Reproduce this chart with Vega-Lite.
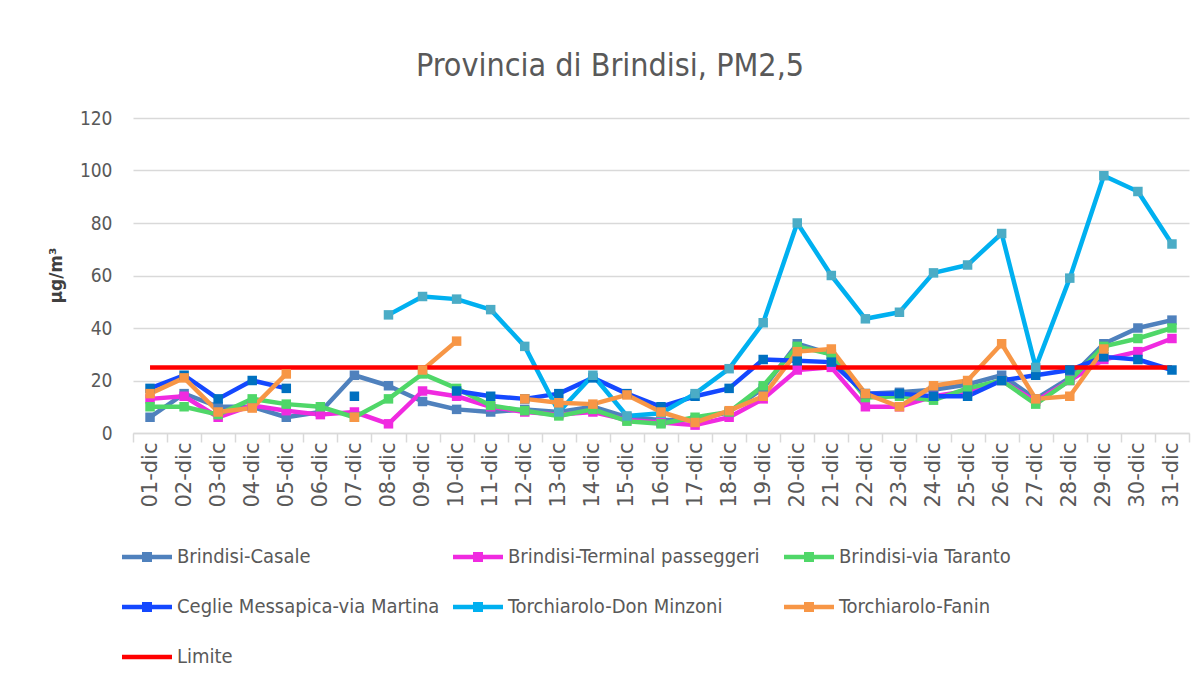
{
  "$schema": "https://vega.github.io/schema/vega-lite/v6.json",
  "width": 1056,
  "height": 315,
  "autosize": {"type": "none"},
  "padding": {"left": 133, "top": 118, "right": 14, "bottom": 251},
  "background": "white",
  "title": {
    "text": "Provincia di Brindisi, PM2,5",
    "anchor": "middle",
    "frame": "group",
    "dx": -51,
    "dy": 43,
    "offset": 37,
    "baseline": "bottom",
    "font": "DejaVu Sans Condensed",
    "fontSize": 32,
    "fontWeight": "normal",
    "color": "#595959"
  },
  "data": {
    "values": [
      {"day": "01-dic", "Brindisi-Casale": 6, "Brindisi-Terminal passeggeri": 13, "Brindisi-via Taranto": 10, "Ceglie Messapica-via Martina": 17, "Torchiarolo-Don Minzoni": null, "Torchiarolo-Fanin": 15, "Limite": 25},
      {"day": "02-dic", "Brindisi-Casale": 15, "Brindisi-Terminal passeggeri": 14, "Brindisi-via Taranto": 10, "Ceglie Messapica-via Martina": 22, "Torchiarolo-Don Minzoni": null, "Torchiarolo-Fanin": 21, "Limite": 25},
      {"day": "03-dic", "Brindisi-Casale": 10, "Brindisi-Terminal passeggeri": 6, "Brindisi-via Taranto": 7, "Ceglie Messapica-via Martina": 13, "Torchiarolo-Don Minzoni": null, "Torchiarolo-Fanin": 8, "Limite": 25},
      {"day": "04-dic", "Brindisi-Casale": 10, "Brindisi-Terminal passeggeri": 10.5, "Brindisi-via Taranto": 13, "Ceglie Messapica-via Martina": 20, "Torchiarolo-Don Minzoni": null, "Torchiarolo-Fanin": 9.5, "Limite": 25},
      {"day": "05-dic", "Brindisi-Casale": 6, "Brindisi-Terminal passeggeri": 8.5, "Brindisi-via Taranto": 11, "Ceglie Messapica-via Martina": 17, "Torchiarolo-Don Minzoni": null, "Torchiarolo-Fanin": 22.5, "Limite": 25},
      {"day": "06-dic", "Brindisi-Casale": 8, "Brindisi-Terminal passeggeri": 7, "Brindisi-via Taranto": 10, "Ceglie Messapica-via Martina": null, "Torchiarolo-Don Minzoni": null, "Torchiarolo-Fanin": null, "Limite": 25},
      {"day": "07-dic", "Brindisi-Casale": 22, "Brindisi-Terminal passeggeri": 8, "Brindisi-via Taranto": 6, "Ceglie Messapica-via Martina": 14, "Torchiarolo-Don Minzoni": null, "Torchiarolo-Fanin": 6, "Limite": 25},
      {"day": "08-dic", "Brindisi-Casale": 18, "Brindisi-Terminal passeggeri": 3.5, "Brindisi-via Taranto": 13, "Ceglie Messapica-via Martina": null, "Torchiarolo-Don Minzoni": 45, "Torchiarolo-Fanin": null, "Limite": 25},
      {"day": "09-dic", "Brindisi-Casale": 12, "Brindisi-Terminal passeggeri": 16, "Brindisi-via Taranto": 22.5, "Ceglie Messapica-via Martina": null, "Torchiarolo-Don Minzoni": 52, "Torchiarolo-Fanin": 24, "Limite": 25},
      {"day": "10-dic", "Brindisi-Casale": 9, "Brindisi-Terminal passeggeri": 14, "Brindisi-via Taranto": 17, "Ceglie Messapica-via Martina": 16, "Torchiarolo-Don Minzoni": 51, "Torchiarolo-Fanin": 35, "Limite": 25},
      {"day": "11-dic", "Brindisi-Casale": 8, "Brindisi-Terminal passeggeri": 10, "Brindisi-via Taranto": 10.5, "Ceglie Messapica-via Martina": 14, "Torchiarolo-Don Minzoni": 47, "Torchiarolo-Fanin": null, "Limite": 25},
      {"day": "12-dic", "Brindisi-Casale": 9, "Brindisi-Terminal passeggeri": 8, "Brindisi-via Taranto": 8.5, "Ceglie Messapica-via Martina": 13, "Torchiarolo-Don Minzoni": 33, "Torchiarolo-Fanin": 13, "Limite": 25},
      {"day": "13-dic", "Brindisi-Casale": 8, "Brindisi-Terminal passeggeri": 7, "Brindisi-via Taranto": 6.5, "Ceglie Messapica-via Martina": 15, "Torchiarolo-Don Minzoni": 8, "Torchiarolo-Fanin": 11.5, "Limite": 25},
      {"day": "14-dic", "Brindisi-Casale": 10, "Brindisi-Terminal passeggeri": 8, "Brindisi-via Taranto": 9, "Ceglie Messapica-via Martina": 21, "Torchiarolo-Don Minzoni": 22, "Torchiarolo-Fanin": 11, "Limite": 25},
      {"day": "15-dic", "Brindisi-Casale": 6, "Brindisi-Terminal passeggeri": 5, "Brindisi-via Taranto": 4.5, "Ceglie Messapica-via Martina": 15, "Torchiarolo-Don Minzoni": 6.5, "Torchiarolo-Fanin": 14.5, "Limite": 25},
      {"day": "16-dic", "Brindisi-Casale": 5, "Brindisi-Terminal passeggeri": 4, "Brindisi-via Taranto": 3.5, "Ceglie Messapica-via Martina": 10, "Torchiarolo-Don Minzoni": 7.5, "Torchiarolo-Fanin": 8, "Limite": 25},
      {"day": "17-dic", "Brindisi-Casale": 5, "Brindisi-Terminal passeggeri": 3, "Brindisi-via Taranto": 6, "Ceglie Messapica-via Martina": 14, "Torchiarolo-Don Minzoni": 15, "Torchiarolo-Fanin": 4, "Limite": 25},
      {"day": "18-dic", "Brindisi-Casale": 8, "Brindisi-Terminal passeggeri": 6, "Brindisi-via Taranto": 8, "Ceglie Messapica-via Martina": 17, "Torchiarolo-Don Minzoni": 24.5, "Torchiarolo-Fanin": 8.5, "Limite": 25},
      {"day": "19-dic", "Brindisi-Casale": 17, "Brindisi-Terminal passeggeri": 13, "Brindisi-via Taranto": 18, "Ceglie Messapica-via Martina": 28, "Torchiarolo-Don Minzoni": 42, "Torchiarolo-Fanin": 14, "Limite": 25},
      {"day": "20-dic", "Brindisi-Casale": 34, "Brindisi-Terminal passeggeri": 24, "Brindisi-via Taranto": 33, "Ceglie Messapica-via Martina": 27.5, "Torchiarolo-Don Minzoni": 80, "Torchiarolo-Fanin": 31, "Limite": 25},
      {"day": "21-dic", "Brindisi-Casale": 30, "Brindisi-Terminal passeggeri": 25, "Brindisi-via Taranto": 30, "Ceglie Messapica-via Martina": 27, "Torchiarolo-Don Minzoni": 60, "Torchiarolo-Fanin": 32, "Limite": 25},
      {"day": "22-dic", "Brindisi-Casale": 15, "Brindisi-Terminal passeggeri": 10, "Brindisi-via Taranto": 13.5, "Ceglie Messapica-via Martina": 15, "Torchiarolo-Don Minzoni": 43.5, "Torchiarolo-Fanin": 15, "Limite": 25},
      {"day": "23-dic", "Brindisi-Casale": 15.5, "Brindisi-Terminal passeggeri": 10, "Brindisi-via Taranto": 14, "Ceglie Messapica-via Martina": 15, "Torchiarolo-Don Minzoni": 46, "Torchiarolo-Fanin": 10, "Limite": 25},
      {"day": "24-dic", "Brindisi-Casale": 16.5, "Brindisi-Terminal passeggeri": 14, "Brindisi-via Taranto": 12.5, "Ceglie Messapica-via Martina": 14, "Torchiarolo-Don Minzoni": 61, "Torchiarolo-Fanin": 18, "Limite": 25},
      {"day": "25-dic", "Brindisi-Casale": 18.5, "Brindisi-Terminal passeggeri": 16, "Brindisi-via Taranto": 17, "Ceglie Messapica-via Martina": 14, "Torchiarolo-Don Minzoni": 64, "Torchiarolo-Fanin": 20, "Limite": 25},
      {"day": "26-dic", "Brindisi-Casale": 22, "Brindisi-Terminal passeggeri": 20, "Brindisi-via Taranto": 20, "Ceglie Messapica-via Martina": 20, "Torchiarolo-Don Minzoni": 76, "Torchiarolo-Fanin": 34, "Limite": 25},
      {"day": "27-dic", "Brindisi-Casale": 13, "Brindisi-Terminal passeggeri": 12, "Brindisi-via Taranto": 11, "Ceglie Messapica-via Martina": 22, "Torchiarolo-Don Minzoni": 25, "Torchiarolo-Fanin": 13, "Limite": 25},
      {"day": "28-dic", "Brindisi-Casale": 21, "Brindisi-Terminal passeggeri": 20, "Brindisi-via Taranto": 20, "Ceglie Messapica-via Martina": 24, "Torchiarolo-Don Minzoni": 59, "Torchiarolo-Fanin": 14, "Limite": 25},
      {"day": "29-dic", "Brindisi-Casale": 34, "Brindisi-Terminal passeggeri": 28, "Brindisi-via Taranto": 33, "Ceglie Messapica-via Martina": 29, "Torchiarolo-Don Minzoni": 98, "Torchiarolo-Fanin": 32, "Limite": 25},
      {"day": "30-dic", "Brindisi-Casale": 40, "Brindisi-Terminal passeggeri": 31, "Brindisi-via Taranto": 36, "Ceglie Messapica-via Martina": 28, "Torchiarolo-Don Minzoni": 92, "Torchiarolo-Fanin": null, "Limite": 25},
      {"day": "31-dic", "Brindisi-Casale": 43, "Brindisi-Terminal passeggeri": 36, "Brindisi-via Taranto": 40, "Ceglie Messapica-via Martina": 24, "Torchiarolo-Don Minzoni": 72, "Torchiarolo-Fanin": null, "Limite": 25}
    ]
  },
  "transform": [
    {"fold": ["Brindisi-Casale", "Brindisi-Terminal passeggeri", "Brindisi-via Taranto", "Ceglie Messapica-via Martina", "Torchiarolo-Don Minzoni", "Torchiarolo-Fanin", "Limite"], "as": ["serie", "val"]}
  ],
  "encoding": {
    "x": {
      "field": "day",
      "type": "ordinal",
      "sort": null,
      "scale": {"type": "band", "paddingInner": 0, "paddingOuter": 0},
      "axis": {
        "title": null,
        "labelAngle": -90,
        "labelFont": "DejaVu Sans",
        "labelFontSize": 21,
        "labelColor": "#595959",
        "labelPadding": 0,
        "tickBand": "extent",
        "ticks": true,
        "tickSize": 9,
        "tickColor": "#D9D9D9",
        "tickWidth": 1.5,
        "domain": true,
        "domainColor": "#D9D9D9",
        "domainWidth": 1.5,
        "grid": false
      }
    },
    "y": {
      "field": "val",
      "type": "quantitative",
      "scale": {"domain": [0, 120], "nice": false, "zero": true},
      "axis": {
        "values": [0, 20, 40, 60, 80, 100, 120],
        "title": "µg/m³",
        "titleFont": "DejaVu Sans",
        "titleFontSize": 17,
        "titleFontWeight": "bold",
        "titleColor": "#404040",
        "titleAngle": 270,
        "titleAlign": "center",
        "titleBaseline": "middle",
        "titleX": -77,
        "titleY": 157,
        "labelFont": "DejaVu Sans Condensed",
        "labelFontSize": 19,
        "labelColor": "#595959",
        "labelPadding": 21,
        "ticks": false,
        "domain": false,
        "grid": true,
        "gridColor": "#D9D9D9",
        "gridWidth": 1.5
      }
    }
  },
  "layer": [
    {
      "mark": {"type": "line", "strokeWidth": 4.5, "strokeJoin": "round"},
      "encoding": {
        "stroke": {
          "field": "serie",
          "type": "nominal",
          "scale": {
            "domain": ["Brindisi-Casale", "Brindisi-Terminal passeggeri", "Brindisi-via Taranto", "Ceglie Messapica-via Martina", "Torchiarolo-Don Minzoni", "Torchiarolo-Fanin", "Limite"],
            "range": ["#4F81BD", "#F02AE0", "#4FD768", "#1448FF", "#00B0F0", "#F79646", "#FF0000"]
          },
          "legend": {
            "title": null,
            "orient": "none",
            "legendX": -11,
            "legendY": 414,
            "direction": "horizontal",
            "columns": 3,
            "gridAlign": "all",
            "columnPadding": 13,
            "rowPadding": 15,
            "symbolSize": 2500,
            "symbolStrokeWidth": 0,
            "labelFont": "DejaVu Sans Condensed",
            "labelFontSize": 20,
            "labelColor": "#595959",
            "labelOffset": 5,
            "labelLimit": 500,
            "encode": {
              "symbols": {
                "update": {
                  "fill": {"scale": "stroke", "field": "value"},
                  "strokeWidth": {"value": 0},
                  "shape": {"signal": "datum.value === 'Limite' ? 'M-1,-0.09H1V0.09H-1Z' : 'M-1,-0.09H1V0.09H-1ZM-0.2,-0.2H0.2V0.2H-0.2Z'"}
                }
              }
            }
          }
        }
      }
    },
    {
      "transform": [{"filter": "datum.serie !== 'Limite' && isValid(datum.val)"}],
      "mark": {"type": "point", "shape": "square", "filled": true, "size": 90, "opacity": 1},
      "encoding": {
        "fill": {
          "field": "serie",
          "type": "nominal",
          "scale": {
            "domain": ["Brindisi-Casale", "Brindisi-Terminal passeggeri", "Brindisi-via Taranto", "Ceglie Messapica-via Martina", "Torchiarolo-Don Minzoni", "Torchiarolo-Fanin"],
            "range": ["#4F81BD", "#F02AE0", "#4FD768", "#0070C0", "#4BACC6", "#F79646"]
          },
          "legend": null
        }
      }
    }
  ],
  "config": {"view": {"stroke": null}}
}
